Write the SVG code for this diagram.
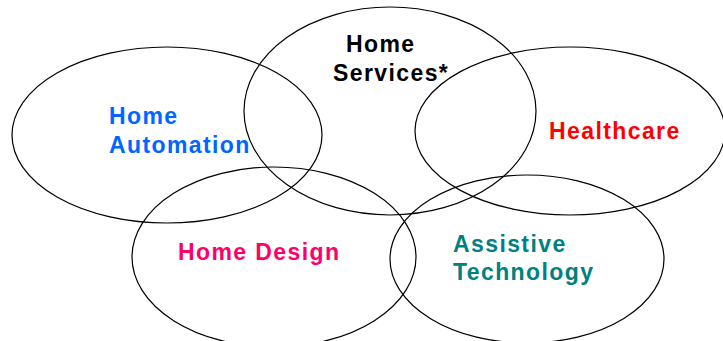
<svg xmlns="http://www.w3.org/2000/svg" width="723" height="341" viewBox="0 0 723 341">
<style>
.e{fill:none;stroke:#000;stroke-width:1.2}
.t{font-family:"Liberation Sans",Arial,sans-serif;font-weight:bold;font-size:23px;letter-spacing:1.4px}
</style>
<rect width="723" height="341" fill="#fff"/>
<g id="automation"><ellipse class="e" cx="167" cy="135" rx="155" ry="88"/>
<text class="t" fill="#0066FF"><tspan x="109" y="124">Home</tspan><tspan x="109" y="153">Automation</tspan></text></g>
<g id="services"><ellipse class="e" cx="390" cy="111" rx="146" ry="104"/>
<text class="t" fill="#000"><tspan x="346" y="52">Home</tspan><tspan x="333" y="81">Services*</tspan></text></g>
<g id="healthcare"><ellipse class="e" cx="570" cy="131" rx="155" ry="84"/>
<text class="t" fill="#FF0000" x="549" y="139">Healthcare</text></g>
<g id="design"><ellipse class="e" cx="274" cy="257" rx="142" ry="90"/>
<text class="t" fill="#FF0066" x="178" y="260">Home Design</text></g>
<g id="assistive"><ellipse class="e" cx="527" cy="259" rx="137" ry="84"/>
<text class="t" fill="#008080"><tspan x="453" y="252">Assistive</tspan><tspan x="453" y="280">Technology</tspan></text></g>
<g id="connectors"/>
</svg>
